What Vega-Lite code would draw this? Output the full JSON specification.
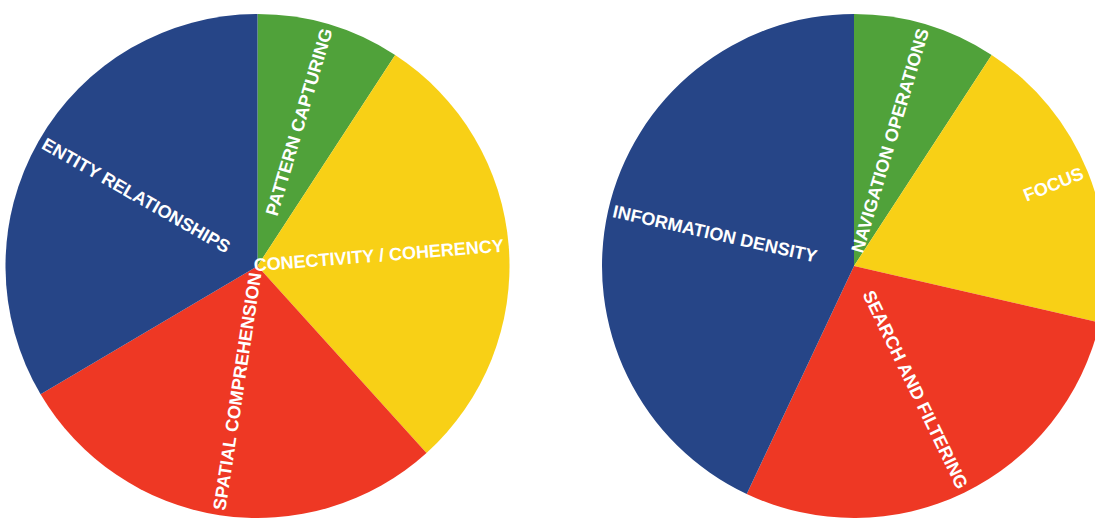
{
  "$schema": "https://vega.github.io/schema/vega-lite/v6.json",
  "padding": {"left": 5, "top": 10, "right": 5, "bottom": 0},
  "spacing": 108,
  "bounds": "flush",
  "config": {"view": {"stroke": null}},
  "datasets": {
    "left": [
      {"label": "PATTERN CAPTURING", "value": 9.2},
      {"label": "CONECTIVITY / COHERENCY", "value": 29.1},
      {"label": "SPATIAL COMPREHENSION", "value": 28.2},
      {"label": "ENTITY RELATIONSHIPS", "value": 33.5}
    ],
    "right": [
      {"label": "NAVIGATION OPERATIONS", "value": 9.2},
      {"label": "FOCUS", "value": 19.4},
      {"label": "SEARCH AND FILTERING", "value": 28.4},
      {"label": "INFORMATION DENSITY", "value": 43.0}
    ]
  },
  "hconcat": [
    {
      "width": 505,
      "height": 512,
      "data": {"name": "left"},
      "transform": [
        {"window": [{"op": "row_number", "as": "idx"}]},
        {"joinaggregate": [{"op": "sum", "field": "value", "as": "total"}]},
        {"window": [{"op": "sum", "field": "value", "as": "cum"}], "frame": [null, 0], "sort": [{"field": "idx"}]},
        {"calculate": "(datum.cum - datum.value / 2) / datum.total * 360", "as": "mid"},
        {"calculate": "datum.mid < 180 ? datum.mid - 90 : datum.mid - 270", "as": "rot"}
      ],
      "layer": [
        {
          "mark": {"type": "arc", "outerRadius": 252},
          "encoding": {
            "theta": {"field": "value", "type": "quantitative", "stack": true},
            "order": {"field": "idx", "type": "quantitative"},
            "color": {
              "field": "label", "type": "nominal", "legend": null,
              "scale": {
                "domain": ["PATTERN CAPTURING", "CONECTIVITY / COHERENCY", "SPATIAL COMPREHENSION", "ENTITY RELATIONSHIPS", "NAVIGATION OPERATIONS", "FOCUS", "SEARCH AND FILTERING", "INFORMATION DENSITY"],
                "range": ["#50A23A", "#F8D016", "#EE3824", "#264587", "#50A23A", "#F8D016", "#EE3824", "#264587"]
              }
            }
          }
        },
        {
          "mark": {"type": "text", "radius": 247, "baseline": "middle", "align": {"expr": "datum.mid < 180 ? 'right' : 'left'"}, "font": "Liberation Sans", "fontWeight": "bold", "fontSize": 18, "color": "#ffffff"},
          "encoding": {
            "theta": {"field": "value", "type": "quantitative", "stack": true},
            "order": {"field": "idx", "type": "quantitative"},
            "text": {"field": "label", "type": "nominal"},
            "angle": {"field": "rot", "type": "quantitative", "scale": null}
          }
        }
      ]
    },
    {
      "width": 472,
      "height": 512,
      "data": {"name": "right"},
      "transform": [
        {"window": [{"op": "row_number", "as": "idx"}]},
        {"joinaggregate": [{"op": "sum", "field": "value", "as": "total"}]},
        {"window": [{"op": "sum", "field": "value", "as": "cum"}], "frame": [null, 0], "sort": [{"field": "idx"}]},
        {"calculate": "(datum.cum - datum.value / 2) / datum.total * 360", "as": "mid"},
        {"calculate": "datum.mid < 180 ? datum.mid - 90 : datum.mid - 270", "as": "rot"}
      ],
      "layer": [
        {
          "mark": {"type": "arc", "outerRadius": 252},
          "encoding": {
            "theta": {"field": "value", "type": "quantitative", "stack": true},
            "order": {"field": "idx", "type": "quantitative"},
            "color": {
              "field": "label", "type": "nominal", "legend": null,
              "scale": {
                "domain": ["PATTERN CAPTURING", "CONECTIVITY / COHERENCY", "SPATIAL COMPREHENSION", "ENTITY RELATIONSHIPS", "NAVIGATION OPERATIONS", "FOCUS", "SEARCH AND FILTERING", "INFORMATION DENSITY"],
                "range": ["#50A23A", "#F8D016", "#EE3824", "#264587", "#50A23A", "#F8D016", "#EE3824", "#264587"]
              }
            }
          }
        },
        {
          "mark": {"type": "text", "radius": 247, "baseline": "middle", "align": {"expr": "datum.mid < 180 ? 'right' : 'left'"}, "font": "Liberation Sans", "fontWeight": "bold", "fontSize": 18, "color": "#ffffff"},
          "encoding": {
            "theta": {"field": "value", "type": "quantitative", "stack": true},
            "order": {"field": "idx", "type": "quantitative"},
            "text": {"field": "label", "type": "nominal"},
            "angle": {"field": "rot", "type": "quantitative", "scale": null}
          }
        }
      ]
    }
  ]
}
